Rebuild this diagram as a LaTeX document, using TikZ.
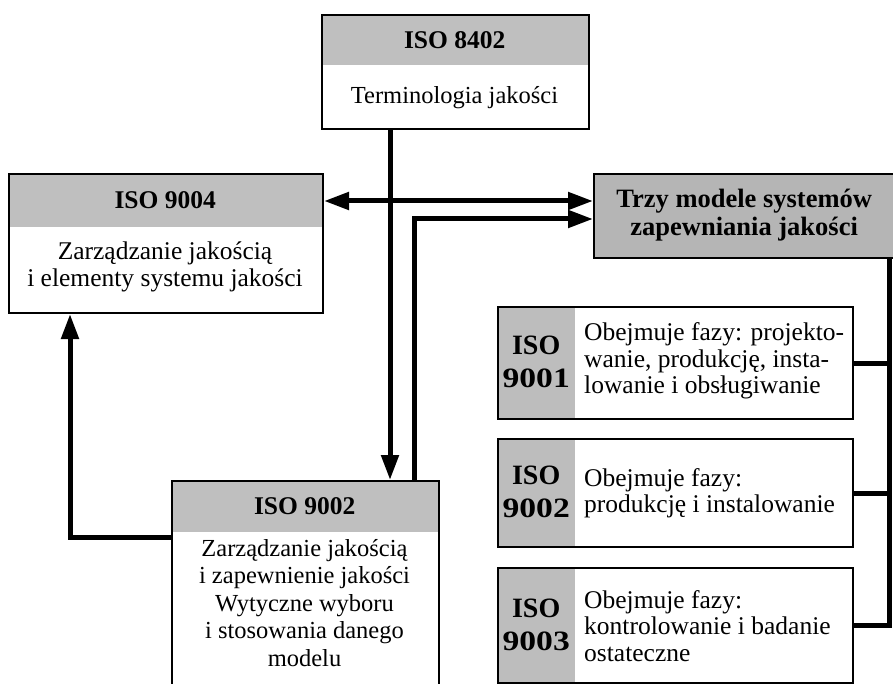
\documentclass[tikz,border=0pt]{standalone}
\usepackage{fontspec}
\setmainfont{Liberation Serif}
\usetikzlibrary{arrows.meta}
\tikzset{
  hdr/.style={fill=gray!50, inner sep=0pt, align=center, font=\bfseries\fontsize{25.5}{26}\selectfont},
  cell/.style={fill=gray!52, inner sep=0pt, align=center, font=\bfseries\fontsize{28}{33}\selectfont},
  frame/.style={draw=black, line width=2pt, inner sep=0pt},
  body/.style={align=center, inner sep=0pt, font=\fontsize{24.5}{27.5}\selectfont},
  side/.style={align=left, inner sep=0pt, anchor=west, font=\fontsize{25.5}{26.5}\selectfont},
  conn/.style={line width=5pt},
  arr/.style={conn, -{Triangle[length=25pt,width=17pt]}},
  dblarr/.style={conn, {Triangle[length=25pt,width=17pt]}-{Triangle[length=25pt,width=17pt]}}
}
\newcommand{\widedigits}[1]{\scalebox{1.2}[1]{#1}}
\begin{document}
\begin{tikzpicture}[x=1pt,y=-1pt]
\clip (0,0) rectangle (893,684);
\fill[white] (0,0) rectangle (893,684);

% ISO 8402
\node[hdr, minimum width=267, minimum height=51, anchor=north west] (h8402) at (321,14) {ISO 8402};
\node[frame, minimum width=267, minimum height=114, anchor=north west] (b8402) at (321,14) {};
\node[body] (t8402) at (454.5,98) {Terminologia jakości};

% ISO 9004
\node[hdr, minimum width=314, minimum height=54, anchor=north west] (h9004) at (8,173) {ISO 9004};
\node[frame, minimum width=314, minimum height=139, anchor=north west] (b9004) at (8,173) {};
\node[body, font=\fontsize{25.5}{27}\selectfont] (t9004) at (165,267) {Zarządzanie jakością\\i elementy systemu jakości};

% Trzy modele
\node[hdr, fill=gray!58, minimum width=302, minimum height=84, anchor=north west, font=\bfseries\fontsize{26.5}{28}\selectfont] (h3) at (593,173) {Trzy modele systemów\\zapewniania jakości};
\node[frame, minimum width=302, minimum height=84, anchor=north west] (b3) at (593,173) {};

% ISO 9001
\node[cell, minimum width=78, minimum height=112, anchor=north west] (c9001) at (497,306) {ISO\\\widedigits{9001}};
\node[frame, minimum width=355, minimum height=112, anchor=north west] (b9001) at (497,306) {};
\node[side] (t9001) at (584,361) {Obejmuje fazy: projekto-\\wanie, produkcję, insta-\\lowanie i obsługiwanie};

% ISO 9002 (right)
\node[cell, minimum width=78, minimum height=108, anchor=north west] (c9002r) at (497,438) {ISO\\\widedigits{9002}};
\node[frame, minimum width=355, minimum height=108, anchor=north west] (b9002r) at (497,438) {};
\node[side] (t9002r) at (584,493) {Obejmuje fazy:\\produkcję i instalowanie};

% ISO 9003
\node[cell, minimum width=78, minimum height=115, anchor=north west] (c9003) at (497,567) {ISO\\\widedigits{9003}};
\node[frame, minimum width=355, minimum height=115, anchor=north west] (b9003) at (497,567) {};
\node[side] (t9003) at (584,626) {Obejmuje fazy:\\kontrolowanie i badanie\\ostateczne};

% ISO 9002 (main)
\node[hdr, minimum width=267, minimum height=52, anchor=north west] (h9002) at (171,480) {ISO 9002};
\node[frame, minimum width=267, minimum height=215, anchor=north west] (b9002) at (171,480) {};
\node[body] (t9002) at (304.5,603) {Zarządzanie jakością\\i zapewnienie jakości\\Wytyczne wyboru\\i stosowania danego\\modelu};

% helper coordinates
\coordinate (xa) at (390,0);
\coordinate (xb) at (414,0);
\coordinate (xc) at (70,0);
\coordinate (xr) at (889,0);
\coordinate (ya) at (0,201);
\coordinate (yb) at (0,219);
\coordinate (yc) at (0,537);

% connectors
\draw[arr] (b8402.south -| xa) -- (b9002.north -| xa);
\draw[dblarr] (b9004.east |- ya) -- (b3.west |- ya);
\draw[arr] (b9002.north -| xb) |- (b3.west |- yb);
\draw[arr] (b9002.west |- yc) -| (b9004.south -| xc);
\draw[conn] (b3.south -| xr) |- (b9003.east);
\draw[conn] (b9001.east) -- (b9001.east -| xr);
\draw[conn] (b9002r.east) -- (b9002r.east -| xr);
\end{tikzpicture}
\end{document}
